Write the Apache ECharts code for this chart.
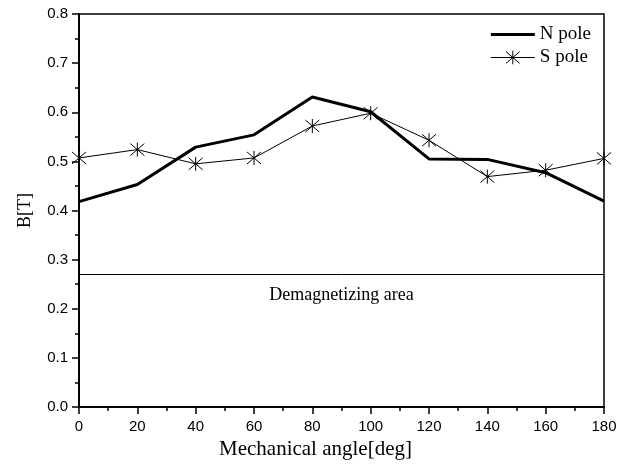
<!DOCTYPE html>
<html>
<head>
<meta charset="utf-8">
<script src="https://cdn.jsdelivr.net/npm/echarts@6/dist/echarts.min.js"></script>
<style>
  html, body { margin: 0; padding: 0; background: #fff; }
  #chart { width: 631px; height: 471px; }
</style>
</head>
<body>
<div id="chart"></div>
<script>
// Mechanical angle positions (deg)
const angles = [0, 20, 40, 60, 80, 100, 120, 140, 160, 180];
// Flux density B[T] measured over the N pole
const nPole = [0.418, 0.453, 0.529, 0.554, 0.631, 0.601, 0.505, 0.504, 0.477, 0.419];
// Flux density B[T] measured over the S pole
const sPole = [0.507, 0.524, 0.495, 0.507, 0.572, 0.598, 0.543, 0.469, 0.482, 0.506];
// Threshold below which the magnet is demagnetized
const demagLevel = 0.273;
const demagLabel = 'Demagnetizing area';

const serif = '"Liberation Serif", "Times New Roman", serif';
const sans = '"Liberation Sans", Arial, sans-serif';

// Six-armed asterisk marker
const asterisk = 'path://M0,-7L0,7M-6,-6L6,6M-6,6L6,-6';

const chart = echarts.init(document.getElementById('chart'), null, { renderer: 'canvas' });

chart.setOption({
  animation: false,
  backgroundColor: '#fff',
  grid: {
    left: 79, right: 27, top: 14, bottom: 64,
    show: true, borderColor: '#000', borderWidth: 1.5
  },
  legend: {
    right: 35, top: 20,
    orient: 'vertical',
    itemWidth: 44, itemHeight: 17, itemGap: 4,
    textStyle: { fontFamily: serif, fontSize: 19, color: '#000' },
    data: [
      { name: 'N pole', lineStyle: { width: 3, color: '#000' } },
      {
        name: 'S pole',
        lineStyle: { width: 1, color: '#000' },
        itemStyle: { color: 'rgba(0,0,0,0)', borderColor: '#000', borderWidth: 1 }
      }
    ]
  },
  xAxis: {
    type: 'value',
    min: 0, max: 180, interval: 20,
    name: 'Mechanical angle[deg]',
    nameLocation: 'middle',
    nameGap: 31,
    nameTextStyle: { fontFamily: serif, fontSize: 21, color: '#000', padding: [0, 52, 0, 0] },
    axisLine: { lineStyle: { color: '#000', width: 2 } },
    axisTick: { show: true, inside: false, length: 7, lineStyle: { color: '#000', width: 1.5 } },
    minorTick: { show: true, splitNumber: 2, length: 4, lineStyle: { color: '#000', width: 1.5 } },
    axisLabel: { fontFamily: sans, fontSize: 15, color: '#000', margin: 12 },
    splitLine: { show: false }
  },
  yAxis: {
    type: 'value',
    min: 0, max: 0.8, interval: 0.1,
    name: 'B[T]',
    nameLocation: 'middle',
    nameGap: 45,
    nameTextStyle: { fontFamily: serif, fontSize: 18, color: '#000' },
    axisLine: { lineStyle: { color: '#000', width: 2 } },
    axisTick: { show: true, inside: false, length: 7, lineStyle: { color: '#000', width: 1.5 } },
    minorTick: { show: true, splitNumber: 2, length: 4, lineStyle: { color: '#000', width: 1.5 } },
    axisLabel: {
      fontFamily: sans, fontSize: 15, color: '#000', margin: 11,
      formatter: v => v.toFixed(1)
    },
    splitLine: { show: false }
  },
  series: [
    {
      name: 'N pole',
      type: 'line',
      data: angles.map((a, i) => [a, nPole[i]]),
      // plain thick line; the marker is kept transparent so the legend shows only the line
      symbol: 'circle',
      showSymbol: false,
      lineStyle: { color: '#000', width: 3 },
      itemStyle: { color: 'rgba(0,0,0,0)', borderWidth: 0 },
      markLine: {
        silent: true,
        symbol: 'none',
        lineStyle: { color: '#000', width: 1, type: 'solid' },
        label: {
          show: true,
          position: 'insideMiddleBottom',
          distance: 12,
          formatter: demagLabel,
          fontFamily: serif, fontSize: 18, color: '#000'
        },
        data: [{ yAxis: demagLevel }]
      }
    },
    {
      name: 'S pole',
      type: 'line',
      data: angles.map((a, i) => [a, sPole[i]]),
      symbol: asterisk,
      symbolSize: 14,
      lineStyle: { color: '#000', width: 1 },
      itemStyle: { color: 'rgba(0,0,0,0)', borderColor: '#000', borderWidth: 1 }
    }
  ]
});
</script>
</body>
</html>
